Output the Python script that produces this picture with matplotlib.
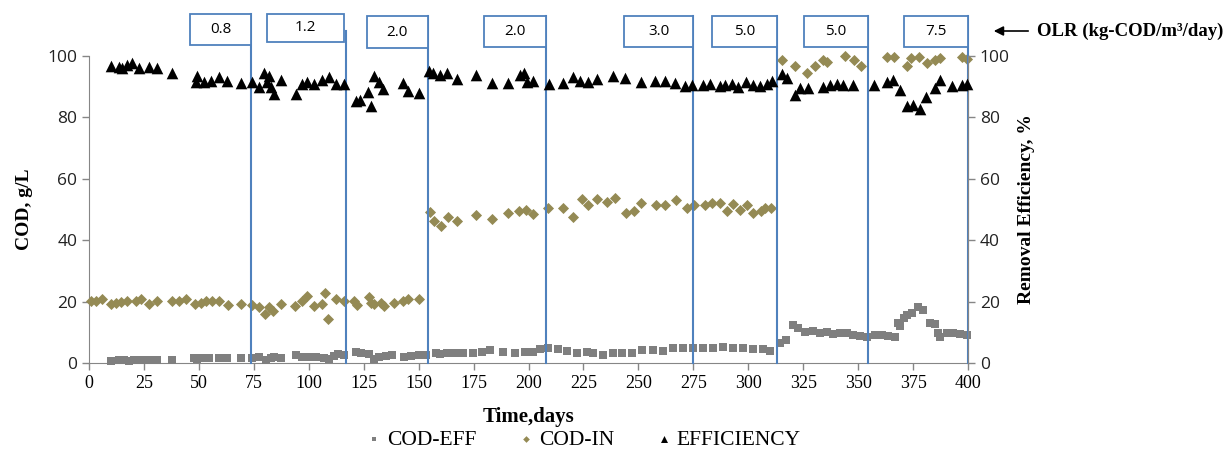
import matplotlib
matplotlib.use("Agg")
import matplotlib.pyplot as plt
from matplotlib.patches import Rectangle, FancyArrowPatch

# ---------------- data ----------------
eff_day = [9.9, 13.7, 15.2, 17.4, 19.7, 22.8, 27.3, 31.0, 37.9, 48.5, 49.3, 52.3, 55.4, 59.2, 62.9,
           69.0, 74.3, 77.4, 79.6, 81.1, 81.9, 82.7, 84.2, 87.2, 94.0, 97.0, 99.3, 102.4, 106.2, 109.2,
           112.3, 116.0, 121.4, 123.2, 127.1, 128.2, 129.7, 132.0, 133.8, 143.0, 145.3, 150.3, 154.9,
           156.7, 159.7, 162.8, 167.3, 176.1, 183.2, 190.8, 196.1, 198.0, 199.2, 202.2, 209.5, 215.8,
           220.1, 223.4, 227.2, 231.0, 238.6, 243.9, 251.0, 257.6, 262.1, 266.7, 271.2, 274.3, 279.5,
           282.6, 287.1, 289.4, 292.5, 295.5, 299.0, 302.3, 305.4, 308.4, 310.7, 315.2, 317.5, 321.3,
           323.5, 327.3, 334.2, 337.2, 340.2, 343.3, 347.8, 357.2, 363.0, 366.0, 369.0, 372.1, 375.1,
           378.2, 380.9, 385.0, 387.3, 392.6, 397.1, 399.4]
eff_val = [96.7, 96.5, 96.0, 97.0, 97.6, 96.0, 96.5, 96.0, 94.6, 91.6, 93.5, 91.6, 92.0, 93.0, 92.0,
           91.3, 91.6, 90.0, 94.6, 91.6, 93.5, 90.0, 87.6, 92.2, 87.6, 91.0, 91.6, 91.0, 92.2, 93.3,
           91.0, 91.0, 85.4, 85.6, 88.4, 83.7, 93.5, 91.6, 89.1, 91.3, 88.7, 88.0, 95.2,
           94.6, 93.8, 94.3, 92.4, 93.8, 91.3, 91.3, 93.8, 94.3, 91.6, 92.0, 90.9, 91.3,
           93.0, 92.0, 91.6, 92.4, 93.5, 92.7, 91.6, 92.0, 92.0, 91.3, 90.3, 90.5, 90.7,
           91.0, 90.3, 90.7, 91.0, 90.0, 91.4, 90.7, 90.3, 91.0, 91.9, 94.0, 92.7, 87.3,
           89.5, 89.7, 90.0, 90.7, 91.0, 90.7, 90.5, 90.7, 91.4, 92.2, 88.9, 83.8, 84.0,
           82.7, 86.7, 89.7, 92.2, 90.3, 90.7, 91.0]

codin_day = [0.8, 3.0, 5.8, 9.9, 12.1, 14.4, 17.4, 21.2, 23.5, 27.3, 31.1, 37.9, 41.0, 44.0, 48.2,
             50.8, 53.1, 55.8, 59.2, 63.4, 69.0, 74.3, 77.4, 80.1, 81.9, 83.7, 87.2, 93.7, 97.1,
             99.3, 102.4, 106.2, 107.4, 108.9, 112.2, 116.0, 120.6, 122.1, 127.4, 128.2, 129.7,
             132.7, 134.2, 138.8, 142.9, 145.3, 150.2,
             155.2, 157.0, 160.0, 163.5, 167.3, 176.1, 183.2, 190.8, 195.8, 198.9, 202.2, 209.0,
             215.6, 220.1, 224.2, 227.2, 231.0, 235.9, 239.4, 244.4, 248.0, 251.0, 258.0, 262.1,
             267.1, 272.0, 275.3, 280.3, 283.4, 287.1, 290.2, 293.2, 296.2, 299.3, 302.3, 305.7,
             307.6, 310.2,
             315.2, 321.3, 326.6, 330.4, 333.9, 335.7, 344.0, 348.1, 351.2, 363.0, 366.3, 372.1,
             373.9, 377.8, 381.2, 385.0, 387.3, 397.1, 399.4]
codin_val = [20.3, 20.3, 20.7, 19.2, 19.6, 20.0, 20.3, 20.3, 20.7, 19.2, 20.3, 20.3, 20.3, 20.7, 19.2,
             19.6, 20.3, 20.3, 20.3, 18.9, 19.2, 18.9, 18.1, 16.0, 18.1, 17.0, 19.2, 18.6, 20.3,
             21.8, 18.6, 19.2, 22.7, 14.2, 20.7, 20.3, 20.3, 18.9, 21.6, 19.6, 19.2,
             19.4, 18.6, 19.6, 20.3, 21.0, 21.0,
             49.3, 46.4, 44.6, 47.5, 46.4, 48.2, 46.8, 48.7, 49.6, 49.8, 48.5, 50.4,
             50.4, 47.5, 53.3, 51.5, 53.3, 52.5, 53.9, 48.7, 49.6, 52.2, 51.5, 51.5,
             53.1, 50.4, 51.5, 51.5, 52.2, 52.2, 49.6, 51.8, 50.0, 51.5, 48.7, 49.6,
             50.4, 50.4,
             98.7, 96.8, 94.3, 96.8, 98.7, 97.9, 100.0, 98.7, 96.6, 99.8, 99.8, 96.8,
             99.2, 99.8, 97.6, 98.7, 99.4, 99.8, 99.0]

codeff_day = [9.9, 13.7, 15.9, 18.2, 20.5, 23.5, 27.3, 31.1, 37.9, 47.8, 49.3, 51.6, 54.6, 59.2, 62.9,
              69.0, 74.3, 77.4, 80.4, 82.7, 84.2, 87.2, 94.0, 97.1, 100.1, 103.2, 106.9, 109.2, 111.5,
              113.4, 116.0, 121.4, 123.6, 127.4, 129.7, 132.0, 135.0, 138.0, 143.3, 146.4, 150.2,
              153.2, 157.8, 159.7, 162.8, 166.6, 170.3, 174.9, 178.7, 182.5, 188.5, 193.9, 198.4,
              202.2, 205.2, 209.0, 213.6, 217.4, 221.9, 226.5, 229.5, 233.8, 238.6, 242.4, 246.9,
              251.5, 256.8, 261.3, 265.9, 270.5, 275.0, 279.6, 284.1, 288.6, 293.2, 297.7, 302.3,
              306.9, 309.9, 314.4, 317.2, 320.5, 322.8, 325.8, 329.3, 332.7, 335.7, 338.7, 341.8,
              345.1, 347.8, 350.9, 353.9, 357.7, 360.7, 363.7, 366.8, 368.3, 369.0, 370.9, 372.1,
              374.4, 377.4, 379.7, 382.7, 385.0, 386.5, 387.3, 390.3, 393.3, 396.3, 399.4]
codeff_val = [0.75, 1.0, 1.0, 0.75, 1.0, 1.0, 1.0, 1.0, 1.0, 1.5, 1.2, 1.7, 1.7, 1.5, 1.5,
              1.7, 1.5, 1.8, 1.0, 1.5, 2.0, 1.5, 2.6, 2.0, 1.8, 1.8, 1.5, 1.2, 2.3,
              2.9, 2.6, 3.7, 3.4, 2.9, 1.2, 1.8, 2.3, 2.6, 2.0, 2.3, 2.6,
              2.6, 3.1, 2.9, 3.4, 3.4, 3.4, 3.1, 3.7, 4.2, 3.7, 3.4, 3.7,
              3.7, 4.5, 4.8, 4.5, 4.0, 3.4, 3.7, 3.1, 2.6, 3.1, 3.4, 3.4,
              4.2, 4.2, 4.0, 4.8, 4.8, 4.8, 4.8, 4.8, 5.1, 4.8, 4.8, 4.5,
              4.5, 4.0, 6.6, 7.5, 12.4, 11.3, 10.2, 10.5, 9.7, 10.2, 9.4, 9.7,
              9.9, 9.1, 8.8, 8.6, 9.1, 9.1, 8.8, 8.4, 12.9, 12.0, 14.6, 15.6,
              16.4, 18.1, 17.3, 13.1, 12.7, 9.7, 8.4, 9.9, 9.7, 9.4, 9.1]

olr_labels = ["0.8", "1.2", "2.0", "2.0", "3.0", "5.0", "5.0", "7.5"]
olr_change_day = [73.6, 116.8, 154.1, 207.8, 275.0, 313.0, 354.6, 400.0]

# box geometry (days / value units, drawn above the plot area)
box_left = [46.0, 80.9, 126.5, 179.8, 243.5, 283.5, 325.4, 370.9]
box_right = [73.6, 116.0, 154.1, 207.8, 275.0, 313.0, 354.6, 400.0]
box_bottom = [103.6, 104.7, 102.6, 103.0, 103.0, 103.0, 103.0, 103.0]
box_top = [113.7, 113.7, 113.0, 113.0, 113.0, 113.0, 113.0, 113.0]

x_ticks = list(range(0, 401, 25))
y_ticks = [0, 20, 40, 60, 80, 100]

# ---------------- figure ----------------
fig = plt.figure(figsize=(12.28, 4.51), dpi=100)
ax = fig.add_axes([89 / 1228, 88 / 451, 879 / 1228, 307 / 451])
ax2 = ax.twinx()

serif = "Liberation Serif"
sans = "Open Sans"
blue = "#4F81BD"
spine_c = "#868686"

ax.scatter(codeff_day, codeff_val, marker="s", s=30, color="#7F7F7F", linewidths=0, zorder=3,
           label="COD-EFF", clip_on=False)
ax.scatter(codin_day, codin_val, marker="D", s=32, color="#948A54", linewidths=0, zorder=3,
           label="COD-IN", clip_on=False)
ax2.scatter(eff_day, eff_val, marker="^", s=70, color="black", linewidths=0, zorder=3,
            label="EFFICIENCY", clip_on=False)

ax.set_xlim(0, 400)
ax.set_ylim(0, 100)
ax2.set_ylim(0, 100)
ax.set_xticks(x_ticks)
ax.set_yticks(y_ticks)
ax2.set_yticks(y_ticks)

for a in (ax, ax2):
    a.spines["top"].set_visible(False)
    for s in ("left", "right", "bottom"):
        a.spines[s].set_color(spine_c)
    a.tick_params(colors=spine_c, direction="out", length=5, width=1)

ax.spines["right"].set_visible(False)
ax2.spines["left"].set_visible(False)
ax2.spines["bottom"].set_visible(False)

for lab in ax.get_xticklabels():
    lab.set_fontfamily(serif)
    lab.set_fontsize(13)
    lab.set_color("black")
for lab in ax.get_yticklabels() + ax2.get_yticklabels():
    lab.set_fontfamily(sans)
    lab.set_fontsize(12.5)
    lab.set_color("#222222")

ax.set_xlabel("Time,days", fontfamily=serif, fontweight="bold", fontsize=15, labelpad=11)
ax.set_ylabel("COD, g/L", fontfamily=serif, fontweight="bold", fontsize=14, labelpad=10)
ax2.set_ylabel("Removal Efficiency, %", fontfamily=serif, fontweight="bold", fontsize=14,
               labelpad=6)

# OLR markers: vertical lines and boxes
for i, lab in enumerate(olr_labels):
    top_line = box_top[i] if abs(olr_change_day[i] - box_right[i]) < 0.5 else 108
    ax.plot([olr_change_day[i], olr_change_day[i]], [0, top_line], color=blue, lw=1.5,
            zorder=4, clip_on=False)
    ax.add_patch(Rectangle((box_left[i], box_bottom[i]), box_right[i] - box_left[i],
                           box_top[i] - box_bottom[i], facecolor="white", edgecolor=blue,
                           lw=1.3, zorder=5, clip_on=False))
    ax.text((box_left[i] + box_right[i]) / 2, (box_bottom[i] + box_top[i]) / 2, lab,
            ha="center", va="center", fontfamily=sans, fontsize=11, zorder=6, clip_on=False)

# OLR annotation
fig.text(1037 / 1228, 1 - 31 / 451, "OLR (kg-COD/m³/day)", fontfamily=serif, fontweight="bold",
         fontsize=13.5, ha="left", va="center")
fig.add_artist(FancyArrowPatch((1031 / 1228, 1 - 31 / 451), (991 / 1228, 1 - 31 / 451),
                               transform=fig.transFigure, arrowstyle="-|>", mutation_scale=14,
                               color="black", lw=1.2))

# legend
h1, l1 = ax.get_legend_handles_labels()
h2, l2 = ax2.get_legend_handles_labels()
leg = fig.legend(h1 + h2, l1 + l2, loc="center", bbox_to_anchor=(582 / 1228, 1 - 440 / 451),
                 ncol=3, frameon=False, prop={"family": serif, "size": 15.5},
                 handletextpad=0.1, columnspacing=1.8, markerscale=0.6, handlelength=1.0)

fig.savefig("out.png", dpi=100)
